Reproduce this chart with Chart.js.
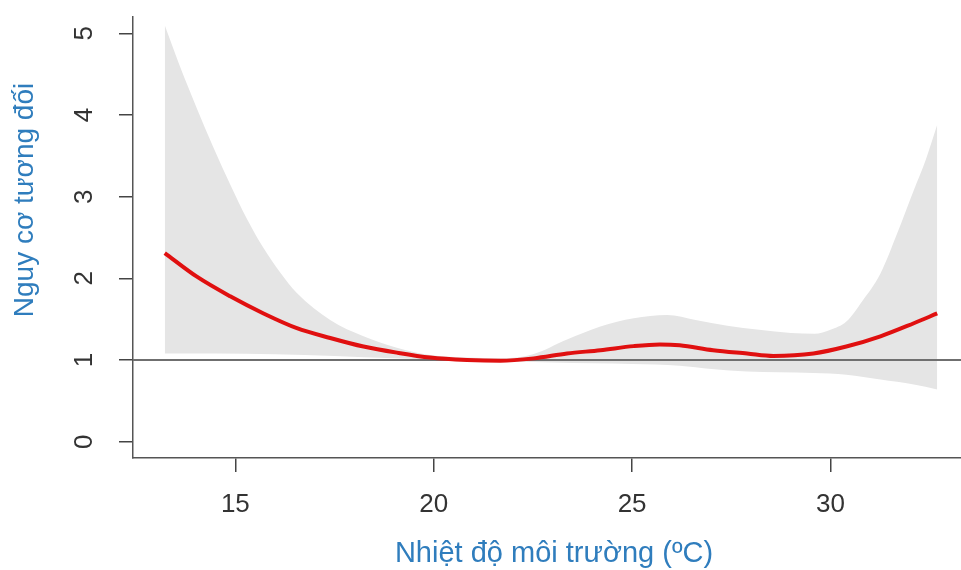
<!DOCTYPE html>
<html>
<head>
<meta charset="utf-8">
<script src="https://cdn.jsdelivr.net/npm/chart.js@4.4.1/dist/chart.umd.min.js"></script>
<style>
  html, body { margin: 0; padding: 0; background: #ffffff; overflow: hidden; }
  #wrap { width: 961px; height: 570px; position: relative; }
</style>
</head>
<body>
<div id="wrap"><canvas id="c" width="961" height="570"></canvas></div>
<script>
// ---- Data ----
const xTitle = "Nhiệt độ môi trường (ºC)";
const yTitle = "Nguy cơ tương đối";
const xTickValues = [15, 20, 25, 30];
const yTickValues = [0, 1, 2, 3, 4, 5];
const refLevel = 1;

// relative risk curve (red)
const curveX = [13.22, 14.03, 14.87, 15.71, 16.55, 17.39, 18.23, 19.07, 19.91, 20.84, 21.68, 22.52, 23.36, 24.2, 25.04, 25.7, 26.2, 27.04, 27.9, 28.56, 29.57, 30.4, 31.26, 32.1, 32.69];
const curveY = [2.31, 2.02, 1.78, 1.57, 1.39, 1.27, 1.165, 1.09, 1.03, 1.0, 0.99, 1.02, 1.08, 1.12, 1.17, 1.19, 1.18, 1.12, 1.08, 1.05, 1.08, 1.165, 1.29, 1.45, 1.57];

// confidence band upper limit
const upperX = [13.22, 13.6, 14.03, 14.45, 14.87, 15.3, 15.71, 16.13, 16.55, 17.39, 18.23, 19.07, 19.91, 20.8, 21.7, 22.5, 23.36, 24.2, 25.04, 25.88, 26.6, 27.4, 28.2, 29.0, 29.6, 30.0, 30.4, 30.8, 31.26, 31.68, 32.1, 32.4, 32.69];
const upperY = [5.10, 4.60, 4.08, 3.60, 3.15, 2.72, 2.37, 2.07, 1.82, 1.49, 1.29, 1.15, 1.06, 1.03, 1.02, 1.07, 1.25, 1.41, 1.51, 1.55, 1.49, 1.42, 1.37, 1.33, 1.32, 1.37, 1.47, 1.72, 2.06, 2.55, 3.08, 3.45, 3.88];

// confidence band lower limit
const lowerX = [13.22, 14.5, 16.0, 17.5, 19.0, 20.0, 21.0, 22.0, 23.0, 24.0, 25.0, 26.2, 27.0, 27.9, 28.7, 29.57, 30.4, 31.26, 32.1, 32.69];
const lowerY = [1.08, 1.08, 1.07, 1.05, 1.02, 1.0, 0.98, 0.98, 0.97, 0.96, 0.95, 0.93, 0.89, 0.86, 0.85, 0.84, 0.82, 0.76, 0.70, 0.64];

const xMin = 12.42, xMax = 33.29, yMin = -0.2, yMax = 5.2;

const pts = (xs, ys) => xs.map((x, i) => ({ x: x, y: ys[i] }));

const FONT = '"Liberation Sans", Arial, sans-serif';

const labelPlugin = {
  id: 'rLabels',
  afterDraw(chart) {
    const ctx = chart.ctx;
    const xs = chart.scales.x, ys = chart.scales.y;
    const area = chart.chartArea;
    ctx.save();
    ctx.fillStyle = '#333333';
    ctx.font = '26px ' + FONT;
    ctx.textAlign = 'center';
    ctx.textBaseline = 'middle';
    xTickValues.forEach(v => {
      ctx.fillText(String(v), xs.getPixelForValue(v), area.bottom + 47);
    });
    yTickValues.forEach(v => {
      ctx.save();
      ctx.translate(area.left - 48, ys.getPixelForValue(v));
      ctx.rotate(-Math.PI / 2);
      ctx.fillText(String(v), 0, 0);
      ctx.restore();
    });
    // axis titles
    ctx.fillStyle = '#2f7dbd';
    ctx.font = '29px ' + FONT;
    ctx.fillText(xTitle, 554, area.bottom + 96);
    ctx.font = '28px ' + FONT;
    ctx.save();
    ctx.translate(25, 200);
    ctx.rotate(-Math.PI / 2);
    ctx.fillText(yTitle, 0, 0);
    ctx.restore();
    ctx.restore();
  }
};

new Chart(document.getElementById('c'), {
  type: 'line',
  data: {
    datasets: [
      {
        label: 'RR',
        data: pts(curveX, curveY),
        borderColor: '#e01010',
        borderWidth: 4,
        pointRadius: 0,
        cubicInterpolationMode: 'monotone',
        fill: false
      },
      {
        label: 'ref',
        data: [{ x: xMin, y: refLevel }, { x: xMax, y: refLevel }],
        borderColor: '#6f6f6f',
        borderWidth: 2,
        pointRadius: 0,
        fill: false
      },
      {
        label: 'upper',
        data: pts(upperX, upperY),
        borderWidth: 0,
        borderColor: 'rgba(0,0,0,0)',
        backgroundColor: '#e5e5e5',
        pointRadius: 0,
        cubicInterpolationMode: 'monotone',
        fill: '+1'
      },
      {
        label: 'lower',
        data: pts(lowerX, lowerY),
        borderWidth: 0,
        borderColor: 'rgba(0,0,0,0)',
        pointRadius: 0,
        cubicInterpolationMode: 'monotone',
        fill: false
      }
    ]
  },
  options: {
    responsive: false,
    animation: false,
    events: [],
    layout: { padding: { top: 17, right: 0, left: 0, bottom: 0 } },
    plugins: { legend: { display: false }, tooltip: { enabled: false }, title: { display: false } },
    scales: {
      x: {
        type: 'linear',
        min: xMin,
        max: xMax,
        afterBuildTicks: s => { s.ticks = xTickValues.map(v => ({ value: v })); },
        afterFit: s => { s.height = 112; },
        ticks: { display: false },
        grid: { drawOnChartArea: false, drawTicks: true, tickLength: 14, color: '#444444', lineWidth: 1.5 },
        border: { display: true, color: '#555555', width: 1.5 }
      },
      y: {
        type: 'linear',
        min: yMin,
        max: yMax,
        afterBuildTicks: s => { s.ticks = yTickValues.map(v => ({ value: v })); },
        afterFit: s => { s.width = 133; },
        ticks: { display: false },
        grid: { drawOnChartArea: false, drawTicks: true, tickLength: 14, color: '#444444', lineWidth: 1.5 },
        border: { display: true, color: '#555555', width: 1.5 }
      }
    }
  },
  plugins: [labelPlugin]
});
</script>
</body>
</html>
